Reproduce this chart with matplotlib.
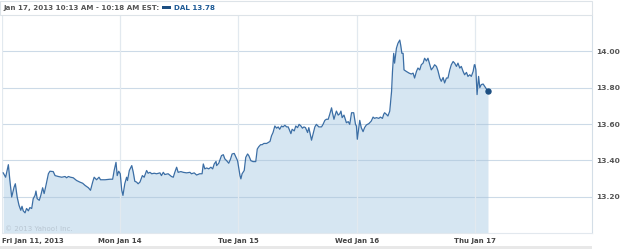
import matplotlib
matplotlib.use("Agg")
import matplotlib.pyplot as plt
from matplotlib.patches import Rectangle

# session labels and minutes since 9:30 open with last trade price (DAL, 5-min bars)
days = ["Fri Jan 11, 2013", "Mon Jan 14", "Tue Jan 15", "Wed Jan 16", "Thu Jan 17"]

fri_min = [4, 12, 21, 26, 32, 40, 44, 50, 56, 62, 66, 70, 76, 81, 87, 92, 98, 103, 109, 112,
           116, 123, 128, 134, 139, 145, 153, 158, 169, 175, 186, 197, 208, 213, 219, 226, 235, 246, 257, 266,
           274, 285, 292, 299, 304, 312, 320, 325, 340, 356, 365, 370, 376, 380, 385]
fri_px = [13.331, 13.307, 13.376, 13.289, 13.198, 13.253, 13.271, 13.198, 13.153, 13.125,
          13.147, 13.122, 13.111, 13.135, 13.122, 13.140, 13.135, 13.189, 13.207, 13.231,
          13.189, 13.180, 13.207, 13.249, 13.217, 13.262, 13.326, 13.340, 13.338, 13.316,
          13.311, 13.307, 13.311, 13.304, 13.311, 13.307, 13.304, 13.289, 13.280, 13.274,
          13.262, 13.249, 13.235, 13.280, 13.307, 13.293, 13.307, 13.293, 13.293, 13.296,
          13.296, 13.344, 13.389, 13.316, 13.340]

mon_min = [0, 5, 9, 15, 21, 24, 30, 38, 43, 48, 54, 59, 65, 73, 79, 87, 92, 98, 104, 112,
           120, 131, 136, 142, 147, 158, 169, 175, 180, 186, 191, 200, 208, 219, 230, 235, 244, 252, 262, 270,
           274, 279, 285, 292, 299, 305, 310, 316, 318, 325, 334, 340, 345, 351, 358, 364, 369, 376, 384, 387]
mon_px = [13.326, 13.235, 13.207, 13.271, 13.307, 13.289, 13.344, 13.371, 13.334, 13.285,
          13.280, 13.271, 13.280, 13.316, 13.307, 13.344, 13.329, 13.334, 13.326, 13.329,
          13.326, 13.331, 13.316, 13.334, 13.322, 13.326, 13.311, 13.307, 13.334, 13.362,
          13.334, 13.338, 13.334, 13.331, 13.334, 13.326, 13.331, 13.319, 13.326, 13.326,
          13.380, 13.353, 13.358, 13.353, 13.362, 13.353, 13.380, 13.394, 13.371, 13.384,
          13.426, 13.431, 13.408, 13.398, 13.384, 13.408, 13.435, 13.438, 13.408, 13.398]

tue_min = [5, 8, 12, 19, 24, 30, 34, 41, 48, 57, 62, 67, 73, 78, 84, 93, 98, 104, 109, 114,
           120, 126, 131, 136, 142, 147, 153, 159, 164, 173, 177, 184, 189, 195, 200, 206, 211, 216, 221, 228,
           232, 238, 241, 246, 252, 257, 265, 274, 279, 285, 290, 296, 301, 307, 310, 315, 318, 323, 329, 334,
           338, 342, 348, 356, 362, 367, 373, 380, 386, 389]
tue_px = [13.316, 13.298, 13.326, 13.344, 13.416, 13.435, 13.426, 13.398, 13.393, 13.393,
          13.462, 13.475, 13.486, 13.486, 13.493, 13.493, 13.498, 13.504, 13.535, 13.553,
          13.589, 13.577, 13.584, 13.571, 13.589, 13.584, 13.593, 13.584, 13.584, 13.547,
          13.571, 13.562, 13.589, 13.580, 13.598, 13.589, 13.577, 13.584, 13.580, 13.553,
          13.580, 13.535, 13.511, 13.544, 13.584, 13.598, 13.584, 13.584, 13.598, 13.620,
          13.626, 13.626, 13.653, 13.689, 13.662, 13.626, 13.644, 13.671, 13.649, 13.656,
          13.671, 13.635, 13.649, 13.607, 13.613, 13.598, 13.662, 13.662, 13.598, 13.589]

wed_min = [2, 10, 15, 21, 26, 32, 40, 48, 54, 59, 65, 73, 78, 85, 89, 92, 98, 103, 109, 115,
           118, 122, 125, 131, 136, 142, 145, 149, 153, 156, 164, 173, 180, 186, 191, 197, 202, 208, 213, 219,
           224, 230, 235, 241, 246, 252, 257, 263, 268, 274, 279, 285, 290, 296, 301, 307, 312, 318, 323, 329,
           334, 340, 345, 351, 356, 362, 367, 373, 378, 384, 388]
wed_px = [13.516, 13.620, 13.580, 13.558, 13.580, 13.595, 13.602, 13.616, 13.638, 13.631,
          13.635, 13.631, 13.638, 13.631, 13.653, 13.662, 13.653, 13.644, 13.671, 13.780,
          13.889, 13.989, 13.935, 14.017, 14.044, 14.062, 14.035, 13.989, 13.989, 13.898,
          13.889, 13.880, 13.875, 13.880, 13.853, 13.889, 13.908, 13.898, 13.926, 13.935,
          13.962, 13.947, 13.962, 13.926, 13.898, 13.911, 13.926, 13.917, 13.893, 13.853,
          13.835, 13.856, 13.826, 13.853, 13.853, 13.898, 13.926, 13.944, 13.935, 13.917,
          13.935, 13.908, 13.917, 13.889, 13.871, 13.884, 13.862, 13.871, 13.862, 13.889,
          13.926]

thu_min = [0, 3, 7, 12, 16, 21, 27, 32, 37, 43]
thu_px = [13.926, 13.898, 13.762, 13.862, 13.800, 13.817, 13.820, 13.807, 13.795, 13.78]

yticks = [13.20, 13.40, 13.60, 13.80, 14.00]
header = "Jan 17, 2013 10:13 AM - 10:18 AM EST:"
legend_label = "DAL 13.78"

session_len = 390.0
t, p = [], []
for d, (mins, px) in enumerate([(fri_min, fri_px), (mon_min, mon_px), (tue_min, tue_px),
                                 (wed_min, wed_px), (thu_min, thu_px)]):
    t += [d + m / session_len for m in mins]
    p += px

W, H = 625, 249
fig = plt.figure(figsize=(W / 100, H / 100), dpi=100)
ax = fig.add_axes([2 / W, (H - 233) / H, 590 / W, 218 / H])

fill_c = "#d6e6f2"
line_c = "#3b6ea5"
ax.fill_between(t, p, 13.0, color=fill_c, lw=0, zorder=1)
for y in yticks:
    ax.axhline(y, color="#aac2d8", alpha=0.6, lw=0.8, zorder=2)
for d in range(5):
    ax.axvline(d, color="#e2e9ef", lw=0.9, zorder=2)
ax.plot(t, p, color=line_c, lw=0.9, zorder=3)
ax.plot(t[-1], p[-1], "o", color="#1d4f82", ms=3.6, zorder=4)

ax.set_xlim(0, 4.99)
ax.set_ylim(13.0, 14.2)

ax.yaxis.tick_right()
ax.set_yticks(yticks)
ax.set_yticklabels(["%.2f" % v for v in yticks], fontsize=5.4, fontweight="bold", color="#555555")
ax.set_xticks(range(5))
ax.set_xticklabels(days, fontsize=5.0, fontweight="bold", color="#444444")
ax.get_xticklabels()[0].set_ha("left")
ax.tick_params(length=0, pad=3)
ax.tick_params(axis="x", pad=3.5)

for s in ["left", "top"]:
    ax.spines[s].set_visible(False)
ax.spines["right"].set_color("#d4dee7")
ax.spines["bottom"].set_color("#e2e8ee")
ax.spines["right"].set_linewidth(0.8)
ax.spines["bottom"].set_linewidth(0.8)

ax.text(0.025, 13.01, "\u00a9 2013 Yahoo! Inc.", fontsize=5, color="#b9c6d2", zorder=2)

# header box
fig.patches.append(Rectangle((0, (H - 15) / H), 592 / W, 14 / H, transform=fig.transFigure,
                             facecolor="white", edgecolor="#dde3e8", lw=0.8))
fig.text(3 / W, 1 - 8 / H, header, fontsize=5.1, fontweight="bold", color="#555555", va="center")
fig.patches.append(Rectangle((162 / W, 1 - 9.5 / H), 9 / W, 3.5 / H, transform=fig.transFigure,
                             facecolor="#1d4f82", edgecolor="none"))
fig.text(174 / W, 1 - 8 / H, legend_label, fontsize=5.1, fontweight="bold", color="#1d5a96", va="center")

# strip under the date labels
fig.patches.append(Rectangle((0, 0), 592 / W, 3 / H, transform=fig.transFigure,
                             facecolor="#e8e8e8", edgecolor="none"))

fig.savefig("out.png", dpi=100)
